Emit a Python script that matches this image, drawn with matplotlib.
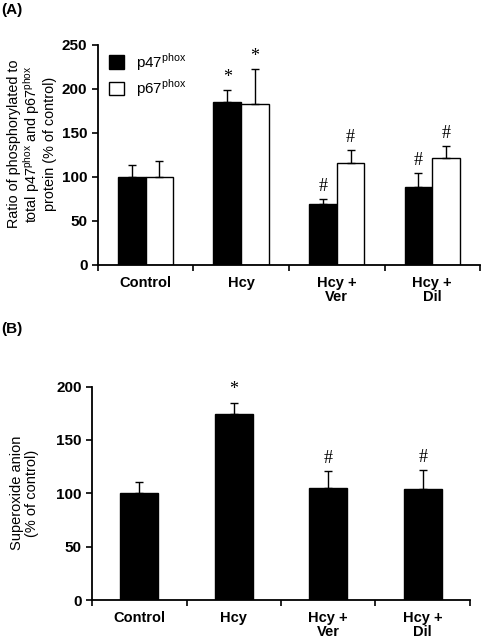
import matplotlib
matplotlib.use("Agg")
from matplotlib import pyplot as plt
import numpy as np

plt.rcParams['font.family'] = ['Liberation Sans', 'DejaVu Sans']

groups = ['Control', 'Hcy', 'Hcy +\nVer', 'Hcy +\nDil']

# panel A: phosphorylated / total ratio (% of control)
p47_vals = [100, 185, 69, 88]
p47_err = [13, 14, 6, 16]
p67_vals = [100, 183, 116, 122]
p67_err = [18, 39, 14, 13]
p47_marks = ['', '*', '#', '#']
p67_marks = ['', '*', '#', '#']

# panel B: superoxide anion (% of control)
sox_vals = [100, 174, 105, 104]
sox_err = [11, 11, 16, 18]
sox_marks = ['', '*', '#', '#']


def style_axes(ax, ymax, step):
    n = len(groups)
    ax.spines['top'].set_visible(False)
    ax.spines['right'].set_visible(False)
    ax.set_xlim(0, n)
    ax.set_ylim(0, ymax)
    ax.set_yticks(np.arange(0, ymax + 1, step))
    # ticks on group boundaries, labels in the middle
    ax.set_xticks(np.arange(0, n + 1))
    ax.set_xticklabels([])
    ax.set_xticks(np.arange(n) + 0.5, minor=True)
    ax.set_xticklabels(groups, minor=True, fontsize=10.5, fontweight='bold',
                       linespacing=1.0)
    ax.tick_params(axis='x', which='minor', length=0, pad=8)
    ax.tick_params(axis='x', which='major', length=4, width=1.2, direction='out')
    ax.tick_params(axis='y', length=4, width=1.2, direction='out', labelsize=11)
    for lab in ax.get_yticklabels():
        lab.set_fontweight('bold')
    for s in ['left', 'bottom']:
        ax.spines[s].set_linewidth(1.3)


def mark(ax, x, top, text):
    if text:
        ax.annotate(text, xy=(x, top), xytext=(0, 3), textcoords='offset points',
                    ha='center', va='bottom', fontsize=13,
                    family=['Liberation Serif', 'DejaVu Serif'])


fig = plt.figure(figsize=(4.82, 6.4), dpi=100)

# ---- (A)
axA = fig.add_axes([0.203, 0.586, 0.793, 0.344])
x = np.arange(len(groups)) + 0.5
w = 0.29
axA.bar(x - w / 2, p47_vals, w, color='black', edgecolor='black', linewidth=1,
        yerr=[np.zeros(4), p47_err], error_kw=dict(ecolor='black', elinewidth=1, capsize=3, capthick=1),
        label='p47$^{\\mathregular{phox}}$')
axA.bar(x + w / 2, p67_vals, w, color='white', edgecolor='black', linewidth=1,
        yerr=[np.zeros(4), p67_err], error_kw=dict(ecolor='black', elinewidth=1, capsize=3, capthick=1),
        label='p67$^{\\mathregular{phox}}$')
for i in range(len(groups)):
    mark(axA, x[i] - w / 2, p47_vals[i] + p47_err[i], p47_marks[i])
    mark(axA, x[i] + w / 2, p67_vals[i] + p67_err[i], p67_marks[i])
style_axes(axA, 250, 50)
axA.set_ylabel('Ratio of phosphorylated to\ntotal p47$^{\\mathregular{phox}}$ and p67$^{\\mathregular{phox}}$\nprotein (% of control)',
               fontsize=10.4, linespacing=1.05)
axA.yaxis.set_label_coords(-0.107, 0.55)
axA.legend(loc='upper left', bbox_to_anchor=(0.0, 1.02), frameon=False, fontsize=11,
           handlelength=1.0, handleheight=1.0, handletextpad=0.8, labelspacing=0.3,
           borderaxespad=0.3)
fig.text(0.002, 0.995, '(A)', fontsize=11, fontweight='bold', ha='left', va='top')

# ---- (B)
axB = fig.add_axes([0.191, 0.0625, 0.784, 0.3335])
wb = 0.4
axB.bar(x, sox_vals, wb, color='black', edgecolor='black', linewidth=1,
        yerr=[np.zeros(4), sox_err], error_kw=dict(ecolor='black', elinewidth=1, capsize=3, capthick=1))
for i in range(len(groups)):
    mark(axB, x[i], sox_vals[i] + sox_err[i], sox_marks[i])
style_axes(axB, 200, 50)
axB.set_ylabel('Superoxide anion\n(% of control)', fontsize=10.5, linespacing=1.1, labelpad=12)
fig.text(0.002, 0.497, '(B)', fontsize=11, fontweight='bold', ha='left', va='top')

fig.savefig('out.png', dpi=100)
